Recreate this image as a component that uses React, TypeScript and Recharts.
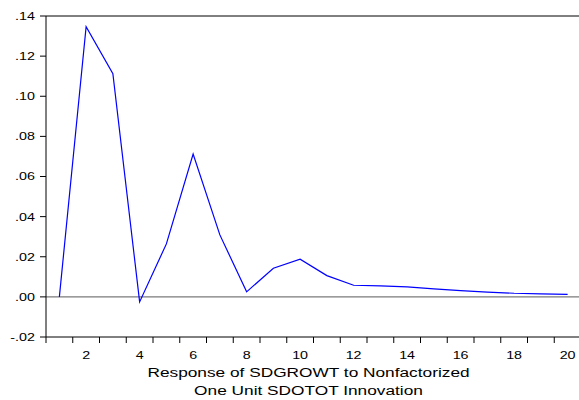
import React from 'react';
import { LineChart, Line, XAxis, YAxis, ReferenceLine } from 'recharts';

const periods = [1, 2, 3, 4, 5, 6, 7, 8, 9, 10, 11, 12, 13, 14, 15, 16, 17, 18, 19, 20];
const response = [
  0.0, 0.1347, 0.1112, -0.0025, 0.0264, 0.0712, 0.0309, 0.0025, 0.0143, 0.0188,
  0.0106, 0.0058, 0.0055, 0.005, 0.004, 0.0031, 0.0024, 0.0018, 0.0015, 0.0012,
];
const xLabelTicks = [2, 4, 6, 8, 10, 12, 14, 16, 18, 20];
const xBoundaryTicks = [0.5, 1.5, 2.5, 3.5, 4.5, 5.5, 6.5, 7.5, 8.5, 9.5, 10.5, 11.5, 12.5, 13.5, 14.5, 15.5, 16.5, 17.5, 18.5, 19.5, 20.5];
const yTicks = [-0.02, 0.0, 0.02, 0.04, 0.06, 0.08, 0.1, 0.12, 0.14];
const titleLines = ['Response of SDGROWT to Nonfactorized', 'One Unit SDOTOT Innovation'];

const data = periods.map((p, i) => ({ period: p, value: response[i] }));
const allXTicks = [...xBoundaryTicks, ...xLabelTicks].sort((a, b) => a - b);

const FONT = '"Liberation Sans", Arial, sans-serif';
const SX = 1.3;

const fmtY = (v: number) => {
  const s = Math.abs(v).toFixed(2).replace(/^0/, '');
  return (v < -1e-9 ? '-' : '') + s;
};

const XTick = (props: any) => {
  const { x, y, payload } = props;
  const v = payload.value;
  if (Math.abs(v % 1) > 1e-6) {
    return <line x1={x} x2={x} y1={y} y2={y + 6} stroke="#000" strokeWidth={1} />;
  }
  return (
    <text
      transform={`translate(${x},${y + 22}) scale(${SX},1)`}
      textAnchor="middle"
      fontSize={11}
      fontFamily={FONT}
      fill="#000"
    >
      {v}
    </text>
  );
};

const YTick = (props: any) => {
  const { x, y, payload } = props;
  return (
    <text
      transform={`translate(${x},${y}) scale(${SX},1)`}
      textAnchor="end"
      dy="0.355em"
      fontSize={11}
      fontFamily={FONT}
      fill="#000"
    >
      {fmtY(payload.value)}
    </text>
  );
};

const TitleLabel = (props: any) => {
  const vb = props.viewBox || { x: 46, y: 337, width: 535, height: 63 };
  const cx = vb.x + vb.width / 2 - 5;
  return (
    <g>
      <text
        transform={`translate(${cx},${vb.y + 40}) scale(${SX},1)`}
        textAnchor="middle"
        fontSize={13.3}
        fontFamily={FONT}
        fill="#000"
      >
        {titleLines[0]}
      </text>
      <text
        transform={`translate(${cx},${vb.y + 58}) scale(${SX},1)`}
        textAnchor="middle"
        fontSize={13.3}
        fontFamily={FONT}
        fill="#000"
      >
        {titleLines[1]}
      </text>
    </g>
  );
};

export default function App() {
  return (
    <div style={{ position: 'absolute', left: 0, top: 0, width: 579, height: 400, overflow: 'hidden', background: '#fff' }}>
      <LineChart width={592} height={400} data={data} margin={{ top: 16, right: 11, bottom: 0, left: 0 }}>
        <XAxis
          dataKey="period"
          type="number"
          domain={[0.5, 20.5]}
          ticks={allXTicks}
          interval={0}
          tickLine={false}
          tickSize={0}
          tickMargin={0}
          tick={<XTick />}
          axisLine={{ stroke: '#000', strokeWidth: 1 }}
          height={63}
          label={(p: any) => <TitleLabel {...p} />}
        />
        <YAxis
          type="number"
          domain={[-0.02, 0.14]}
          ticks={yTicks}
          interval={0}
          width={46}
          tickSize={6}
          tickMargin={5}
          tickLine={{ stroke: '#000' }}
          axisLine={{ stroke: '#000', strokeWidth: 1 }}
          tick={<YTick />}
        />
        <ReferenceLine y={0.14} stroke="#000" strokeWidth={1} />
        <ReferenceLine y={0} stroke="#7a7a7a" strokeWidth={1.3} />
        <Line
          type="linear"
          dataKey="value"
          stroke="#0000ff"
          strokeWidth={1.2}
          dot={false}
          isAnimationActive={false}
        />
      </LineChart>
    </div>
  );
}
